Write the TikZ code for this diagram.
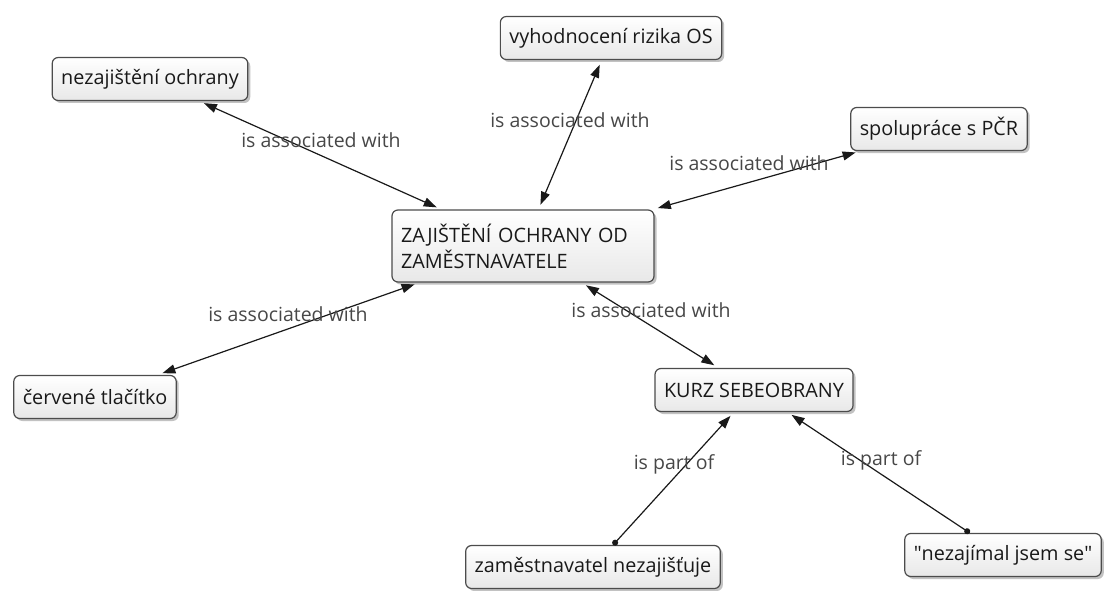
\documentclass[tikz,border=0pt]{standalone}
\usepackage{fontspec}
\setmainfont{Open Sans}
\usetikzlibrary{arrows.meta,shadows}

\tikzset{
  concept/.style={
    draw=black!70, line width=1.2pt, rounded corners=6pt,
    top color=white, bottom color=black!9,
    drop shadow={shadow xshift=2.5pt, shadow yshift=-2.5pt, fill=black!40, opacity=.6},
    inner xsep=9pt, inner ysep=0pt, minimum height=43pt,
    font=\fontsize{19.8}{26}\selectfont, text=black!90, anchor=center
  },
  lbl/.style={font=\fontsize{19.5}{22}\selectfont, text=black!72, inner sep=0pt},
  link/.style={line width=1.2pt, draw=black!90, shorten <=5pt, shorten >=5pt,
    {Triangle[length=13pt,width=9pt]}-{Triangle[length=13pt,width=9pt]}},
  partof/.style={line width=1.2pt, draw=black!90, shorten >=5pt,
    {Circle[length=6pt]}-{Triangle[length=13pt,width=9pt]}}
}

\begin{document}
\begin{tikzpicture}[x=1pt,y=-1pt]
  \useasboundingbox (0,0) rectangle (1108,591);

  % concepts
  \node[concept, text width=244pt, align=left, minimum height=72pt] (main) at (523,246)
    {ZAJIŠTĚNÍ OCHRANY OD\\ZAMĚSTNAVATELE};
  \node[concept] (nezaj)  at (150,79)  {nezajištění ochrany};
  \node[concept] (vyhod)  at (611,38)  {vyhodnocení rizika OS};
  \node[concept] (spolu)  at (939,129) {spolupráce s PČR};
  \node[concept] (cerv)   at (95,397)  {červené tlačítko};
  \node[concept] (kurz)   at (754,390) {KURZ SEBEOBRANY};
  \node[concept] (zames)  at (593,567) {zaměstnavatel nezajišťuje};
  \node[concept] (nezajm) at (1003,555) {\textquotedbl nezajímal jsem se\textquotedbl};

  % associations
  \draw[link] (main) -- (nezaj);
  \draw[link] (main) -- (vyhod);
  \draw[link] (main) -- (spolu);
  \draw[link] (main) -- (cerv);
  \draw[link] (main) -- (kurz);

  % part-of links
  \draw[partof] (zames) -- (kurz);
  \draw[partof] (nezajm) -- (kurz);

  % link labels
  \node[lbl] (l1) at (321,140) {is associated with};
  \node[lbl] (l2) at (570,120) {is associated with};
  \node[lbl] (l3) at (749,163) {is associated with};
  \node[lbl] (l4) at (288,314) {is associated with};
  \node[lbl] (l5) at (651,310) {is associated with};
  \node[lbl] (l6) at (674,464) {is part of};
  \node[lbl] (l7) at (881,460) {is part of};
\end{tikzpicture}
\end{document}
